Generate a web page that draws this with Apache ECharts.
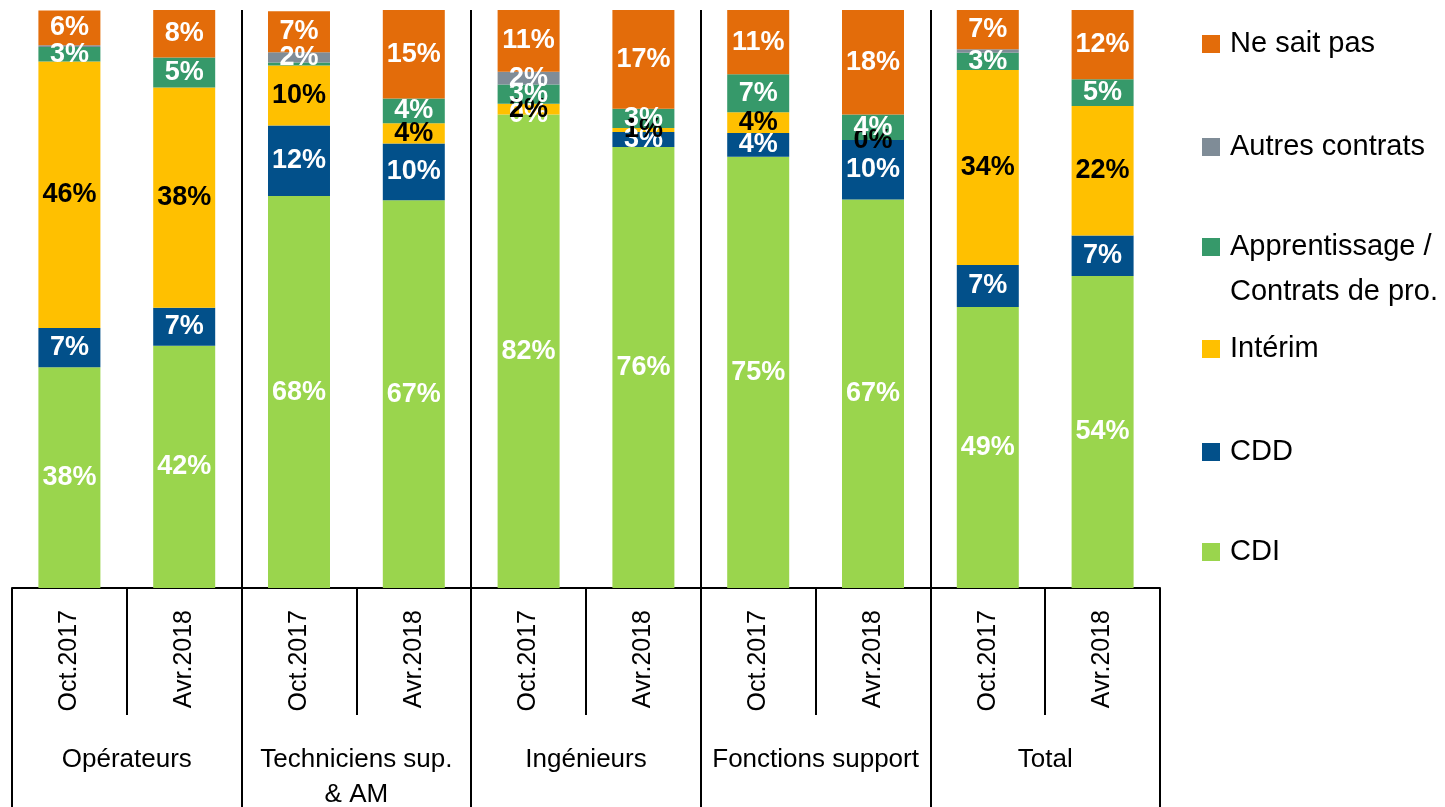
<!DOCTYPE html>
<html>
<head>
<meta charset="utf-8">
<script src="https://cdn.jsdelivr.net/npm/echarts@6/dist/echarts.min.js"></script>
<style>
	html, body { margin: 0; padding: 0; background: #fff; }
	#chart { width: 1445px; height: 807px; }
</style>
</head>
<body>
<div id="chart"></div>
<script>
// categories: two periods per population group
var periods = ['Oct.2017', 'Avr.2018', 'Oct.2017', 'Avr.2018', 'Oct.2017', 'Avr.2018', 'Oct.2017', 'Avr.2018', 'Oct.2017', 'Avr.2018'];
var groups = ['Opérateurs', 'Techniciens sup.\n& AM', 'Ingénieurs', 'Fonctions support', 'Total'];

// shares in %, bottom to top
var cdi     = [38.2, 41.9, 67.8, 67.1, 81.9, 76.3, 74.6, 67.2, 48.6, 54.0];
var cdd     = [6.8, 6.6, 12.2, 9.8, 0, 2.6, 4.1, 10.3, 7.3, 7.0];
var interim = [46.1, 38.1, 10.4, 3.5, 1.9, 0.7, 3.6, 0, 33.7, 22.4];
var appr    = [2.5, 5.2, 0.5, 4.3, 3.3, 3.3, 6.6, 4.4, 3.0, 4.6];
var autres  = [0.3, null, 1.8, null, 2.2, null, null, null, 0.6, null];
var nsp     = [6.0, 8.2, 7.1, 15.3, 10.7, 17.1, 11.1, 18.1, 6.8, 12.0];

var font = "'Liberation Sans', Arial, sans-serif";

function makeSerie(name, data, color, labelColor) {
	return {
		name: name,
		type: 'bar',
		stack: 'total',
		barWidth: '54%',
		xAxisIndex: 0,
		data: data,
		itemStyle: { color: color },
		label: {
			show: true,
			position: 'inside',
			color: labelColor,
			fontFamily: font,
			fontWeight: 'bold',
			fontSize: 27,
			formatter: function (p) {
				// tiny slivers carry no label in the source chart
				if (p.value > 0 && p.value < 0.65) return '';
				return Math.round(p.value) + '%';
			}
		}
	};
}

// one legend per entry: the two-line entry keeps its marker on the first line
function makeLegend(name, top) {
	return {
		orient: 'vertical',
		left: 1202,
		top: top,
		padding: 0,
		itemWidth: 18,
		itemHeight: 18,
		icon: 'rect',
		data: [name],
		formatter: function (n) {
			return n.split(' / ')[0] + (n.indexOf(' / ') > 0 ? ' /' : '');
		},
		textStyle: {
			fontFamily: font,
			fontSize: 29,
			color: '#000',
			lineHeight: 44,
			padding: [0, 0, 0, 5]
		}
	};
}

var chart = echarts.init(document.getElementById('chart'));
chart.setOption({
	animation: false,
	grid: {
		left: 12,
		right: 285,
		top: 10,
		bottom: 219,
		outerBoundsMode: 'none'
	},
	legend: [
		makeLegend('Ne sait pas', 22),
		makeLegend('Autres contrats', 125),
		makeLegend('Apprentissage / Contrats de pro.', 225),
		makeLegend('Intérim', 327),
		makeLegend('CDD', 430),
		makeLegend('CDI', 530)
	],
	graphic: [{
		// second line of the "Apprentissage /" legend entry
		type: 'text',
		left: 1230,
		top: 270,
		style: {
			text: 'Contrats de pro.',
			fontFamily: font,
			fontSize: 29,
			lineHeight: 44,
			fill: '#000'
		}
	}],
	xAxis: [
		{
			type: 'category',
			data: periods,
			position: 'bottom',
			axisLine: { show: true, lineStyle: { color: '#000', width: 2 } },
			axisTick: { show: true, interval: 0, length: 127, lineStyle: { color: '#000', width: 2 } },
			axisLabel: {
				interval: 0,
				rotate: 90,
				margin: 22,
				fontFamily: font,
				fontSize: 25,
				color: '#000'
			},
			splitLine: { show: false }
		},
		{
			type: 'category',
			data: groups,
			position: 'bottom',
			axisLine: { show: false },
			axisTick: { show: true, interval: 0, length: 219, lineStyle: { color: '#000', width: 2 } },
			axisLabel: {
				interval: 0,
				margin: 154,
				fontFamily: font,
				fontSize: 26,
				lineHeight: 35,
				color: '#000'
			},
			splitLine: {
				show: true,
				interval: 0,
				showMinLine: false,
				showMaxLine: false,
				lineStyle: { color: '#000', width: 2 }
			}
		}
	],
	yAxis: {
		type: 'value',
		min: 0,
		max: 100,
		show: false
	},
	series: [
		makeSerie('CDI', cdi, '#9AD54D', '#fff'),
		makeSerie('CDD', cdd, '#02508A', '#fff'),
		makeSerie('Intérim', interim, '#FFC000', '#000'),
		makeSerie('Apprentissage / Contrats de pro.', appr, '#36996A', '#fff'),
		makeSerie('Autres contrats', autres, '#7F8C97', '#fff'),
		makeSerie('Ne sait pas', nsp, '#E36C0A', '#fff')
	]
});
</script>
</body>
</html>
